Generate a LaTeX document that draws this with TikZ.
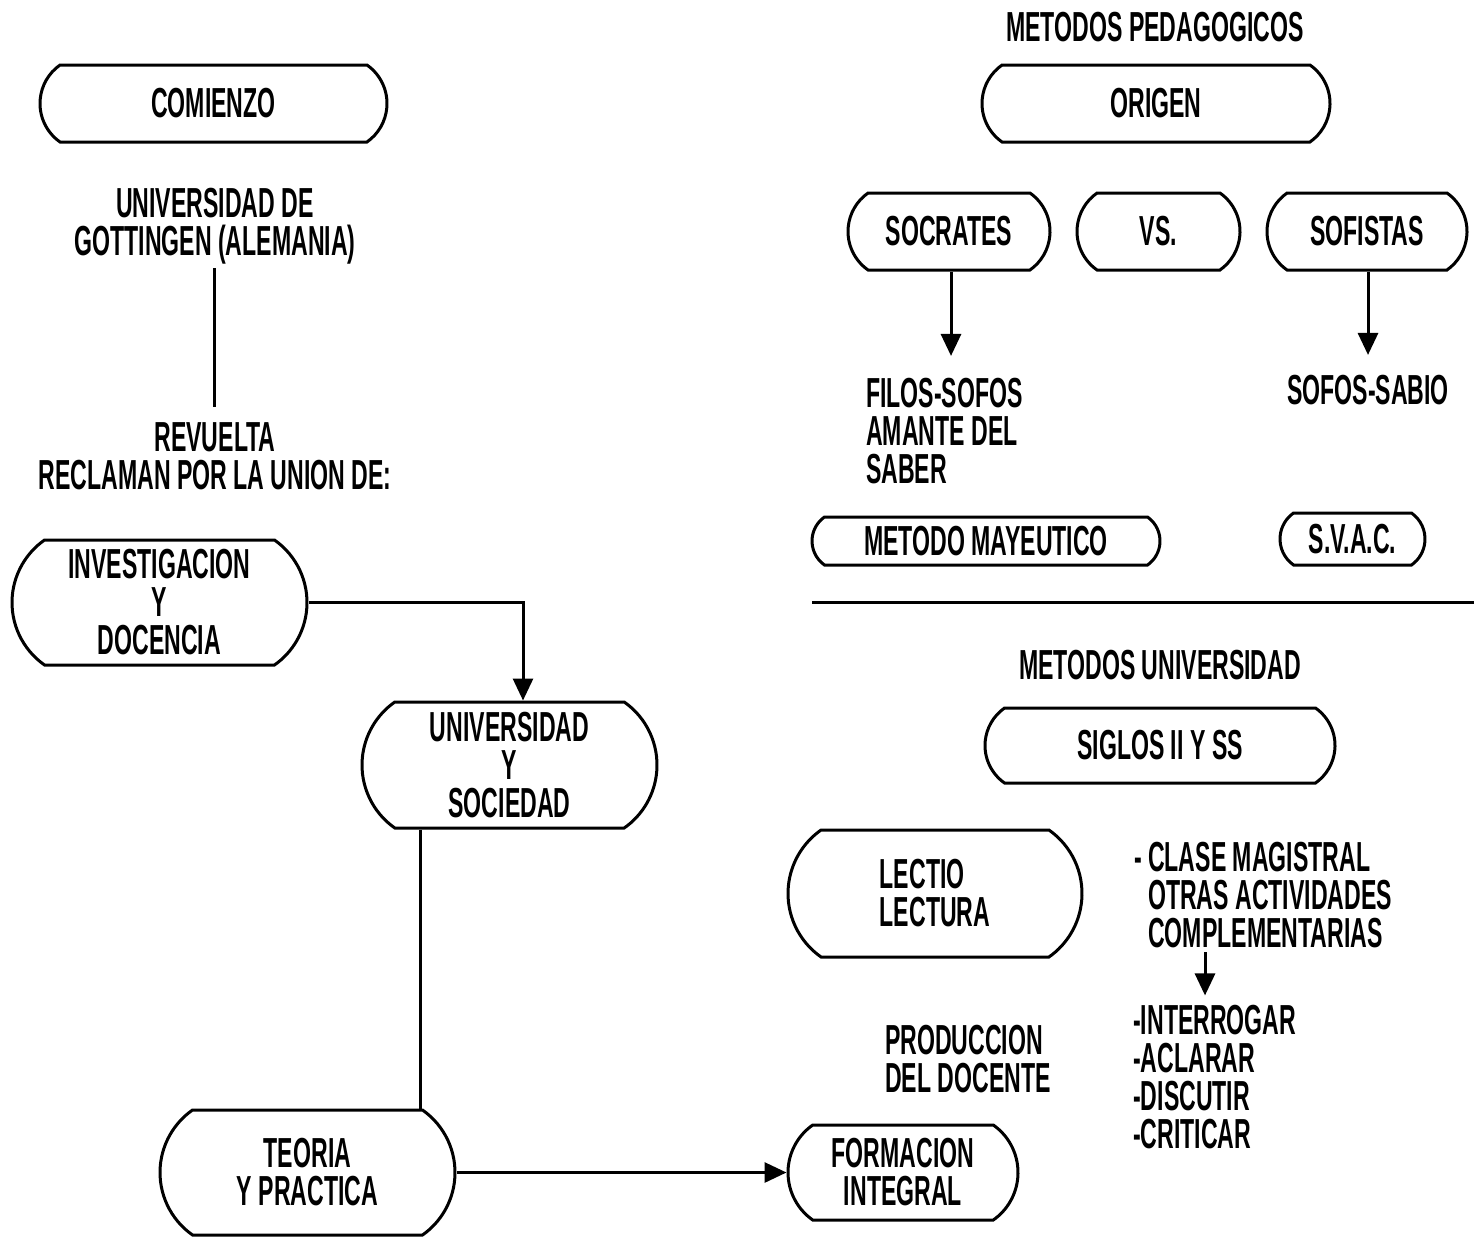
\documentclass[tikz,border=0pt]{standalone}
\usepackage{fontspec}
\newfontfamily\cond{Liberation Sans}[FakeStretch=0.55]
\usetikzlibrary{shapes.misc,arrows.meta}
\tikzset{
  lbl/.style={font=\cond\bfseries\fontsize{42}{38}\selectfont, inner sep=0pt, align=center},
  bx/.style={lbl, draw, line width=3pt, rounded rectangle, rounded rectangle arc length=110},
  arr/.style={line width=3pt, -{Triangle[width=20pt,length=22pt]}},
  ln/.style={line width=3pt}
}
\begin{document}
\begin{tikzpicture}[x=1pt,y=-1pt]
\useasboundingbox (0,0) rectangle (1474,1237);
% left column
\node[bx, minimum width=347pt, minimum height=77pt] (com) at (213.5,103.5) {COMIENZO};
\node[lbl] (gott) at (215,226) {UNIVERSIDAD DE\\GOTTINGEN (ALEMANIA)};
\node[lbl] (rev) at (215,456) {REVUELTA\\RECLAMAN POR LA UNION DE:};
\node[bx, minimum width=295pt, minimum height=125pt] (inv) at (159.5,602.5) {INVESTIGACION\\Y\\DOCENCIA};
\node[bx, minimum width=295pt, minimum height=126pt] (univ) at (509.5,765) {UNIVERSIDAD\\Y\\SOCIEDAD};
\node[bx, minimum width=295pt, minimum height=125pt] (teoria) at (307.5,1172.5) {TEORIA\\Y PRACTICA};
\node[bx, minimum width=230pt, minimum height=95pt] (form) at (903,1172.5) {FORMACION\\INTEGRAL};
% right top
\node[lbl] (metped) at (1155,27) {METODOS PEDAGOGICOS};
\node[bx, minimum width=348pt, minimum height=77pt] (orig) at (1156,103.5) {ORIGEN};
\node[bx, minimum width=202pt, minimum height=77pt] (soc) at (949,231.5) {SOCRATES};
\node[bx, minimum width=163pt, minimum height=77pt] (vs) at (1158.5,231.5) {VS.};
\node[bx, minimum width=200pt, minimum height=77pt] (sof) at (1367,231.5) {SOFISTAS};
\node[lbl, align=left, anchor=west] (filos) at (866,431) {FILOS-SOFOS\\AMANTE DEL\\SABER};
\node[lbl] (sabio) at (1368,390) {SOFOS-SABIO};
\node[bx, minimum width=348pt, minimum height=48pt] (may) at (986,541) {METODO MAYEUTICO};
\node[bx, minimum width=145pt, minimum height=52pt] (svac) at (1352.5,539) {S.V.A.C.};
\coordinate (sepL) at (812,602);
\coordinate (sepR) at (1474,602);
% right bottom
\node[lbl] (metuni) at (1160,665) {METODOS UNIVERSIDAD};
\node[bx, minimum width=350pt, minimum height=75pt] (siglos) at (1160,745.5) {SIGLOS II Y SS};
\node[bx, align=left, minimum width=294pt, minimum height=127pt] (lectio) at (935,893.5) {LECTIO\\LECTURA};
\node[lbl, align=left, anchor=west] (clase) at (1148,895) {\llap{- }CLASE MAGISTRAL\\OTRAS ACTIVIDADES\\COMPLEMENTARIAS};
\node[lbl, align=left, anchor=west] (interr) at (1133,1077.5) {-INTERROGAR\\-ACLARAR\\-DISCUTIR\\-CRITICAR};
\node[lbl, align=left, anchor=west] (prod) at (885,1059) {PRODUCCION\\DEL DOCENTE};
\coordinate (ax) at (1205,0);
% connectors
\draw[ln, shorten <=4pt, shorten >=15pt] (gott.south -| 214,0) -- (rev.north -| 214,0);
\draw[arr] (inv.east) -| ([xshift=13.5pt]univ.north);
\draw[ln] ([xshift=-89.5pt]univ.south) -- ([xshift=112.5pt]teoria.north);
\draw[arr] (teoria.east) -- (form.west);
\draw[arr, shorten >=22pt] ([xshift=2pt]soc.south) -- (filos.north -| 951,0);
\draw[arr, shorten >=20pt] ([xshift=1pt]sof.south) -- (sabio.north -| 1368,0);
\draw[ln] (sepL) -- (sepR);
\draw[arr, shorten <=4pt, shorten >=10pt] (clase.south -| ax) -- (interr.north -| ax);
\end{tikzpicture}
\end{document}
